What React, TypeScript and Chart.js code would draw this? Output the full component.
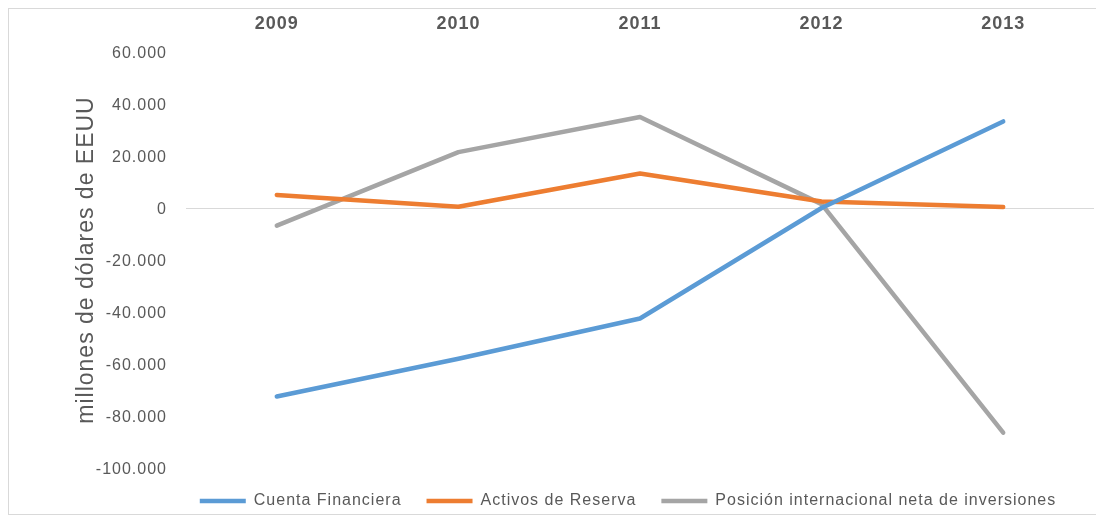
import React, { useEffect, useRef } from "react";
import { Chart, registerables } from "chart.js";

Chart.register(...registerables);

const years = ["2009", "2010", "2011", "2012", "2013"];
const cuentaFinanciera = [-72500, -58000, -42500, 0, 33300];
const activosReserva = [5000, 500, 13300, 2500, 400];
const posicionNeta = [-6800, 21500, 35000, 1500, -86400];
const yTicks = [-100000, -80000, -60000, -40000, -20000, 0, 20000, 40000, 60000];

const seriesNames = [
  "Cuenta Financiera",
  "Activos de Reserva",
  "Posición internacional neta de inversiones",
];
const seriesColors = ["#5B9BD5", "#ED7D31", "#A5A5A5"];

const FONT = "'Liberation Sans', Arial, sans-serif";
const TEXT = "#595959";

function fmt(v: number): string {
  const s = Math.abs(v).toString().replace(/\B(?=(\d{3})+(?!\d))/g, ".");
  return (v < 0 ? "-" : "") + s;
}

const spacingPlugin = {
  id: "letterSpacing",
  beforeUpdate(chart: any) {
    chart.ctx.letterSpacing = "1px";
  },
  afterLayout(chart: any) {
    const lg = chart.legend;
    if (lg) {
      lg.left -= 12;
      lg.right -= 12;
    }
  },
  beforeDraw(chart: any) {
    chart.ctx.letterSpacing = "1px";
  },
};

export default function App() {
  const ref = useRef<HTMLCanvasElement | null>(null);
  useEffect(() => {
    if (!ref.current) return;
    const series = [cuentaFinanciera, activosReserva, posicionNeta];
    const chart = new Chart(ref.current, {
      type: "line",
      plugins: [spacingPlugin],
      data: {
        labels: years,
        datasets: series.map((d, i) => ({
          label: seriesNames[i],
          data: d,
          borderColor: seriesColors[i],
          backgroundColor: seriesColors[i],
          borderWidth: 4.5,
          pointRadius: 0,
          pointHoverRadius: 0,
          tension: 0,
          borderCapStyle: "round" as const,
          borderJoinStyle: "round" as const,
          fill: false,
        })),
      },
      options: {
        responsive: false,
        animation: false,
        layout: { padding: { left: 0, right: 9, top: 0, bottom: -5 } },
        plugins: {
          tooltip: { enabled: false },
          legend: {
            position: "bottom",
            fullSize: false,
            labels: {
              usePointStyle: true,
              pointStyle: "line",
              pointStyleWidth: 46,
              padding: 25,
              color: TEXT,
              font: { family: FONT, size: 16 },
            },
          },
        },
        scales: {
          x: {
            position: "top",
            offset: true,
            grid: { display: false, drawTicks: false },
            border: { display: false },
            ticks: {
              color: TEXT,
              padding: 17,
              font: { family: FONT, size: 18, weight: "bold" },
            },
            afterFit: (s: any) => {
              s.height = 43;
            },
          },
          y: {
            min: -100000,
            max: 60000,
            afterBuildTicks: (s: any) => {
              s.ticks = yTicks.map((v) => ({ value: v }));
            },
            grid: {
              drawTicks: false,
              color: (c: any) => (c.tick && c.tick.value === 0 ? "#D9D9D9" : "rgba(0,0,0,0)"),
              lineWidth: 1,
            },
            border: { display: false },
            ticks: {
              color: TEXT,
              padding: 19,
              labelOffset: 2,
              font: { family: FONT, size: 16 },
              callback: (v: any) => fmt(Number(v)),
            },
            title: {
              display: true,
              text: "millones de dólares de EEUU",
              color: TEXT,
              font: { family: FONT, size: 23 },
              padding: { top: 64, bottom: 0 },
            },
            afterFit: (s: any) => {
              s.width = 177;
            },
          },
        },
      },
    });
    return () => chart.destroy();
  }, []);

  return (
    <div
      style={{
        width: 1096,
        height: 507,
        boxSizing: "border-box",
        border: "1px solid #D9D9D9",
        background: "#fff",
      }}
    >
      <canvas ref={ref} width={1094} height={505} style={{ display: "block" }} />
    </div>
  );
}
